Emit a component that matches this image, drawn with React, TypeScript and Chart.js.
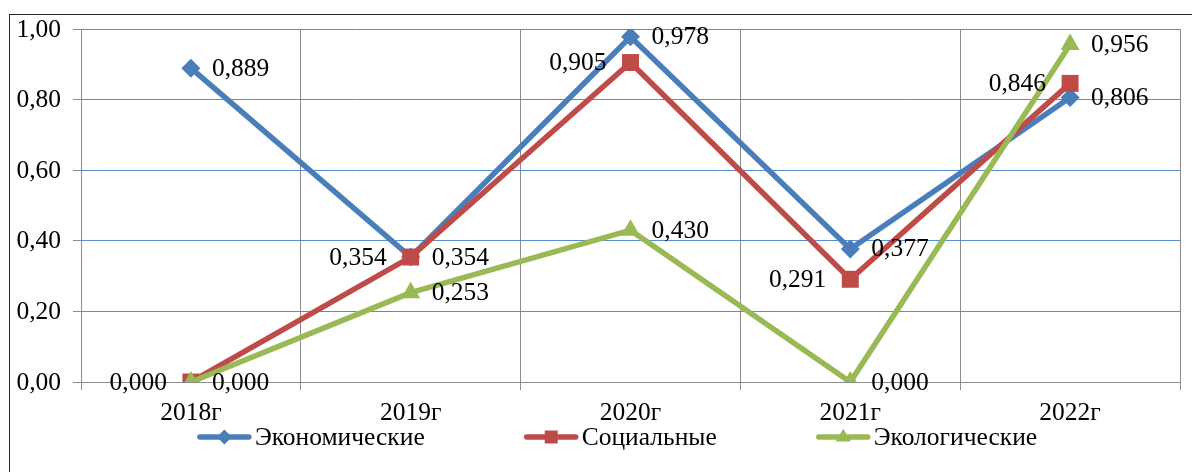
import React, { useEffect, useRef } from 'react';
import { Chart, registerables } from 'chart.js';

Chart.register(...registerables);

const categories = ['2018г', '2019г', '2020г', '2021г', '2022г'];
const economic = [0.889, 0.354, 0.978, 0.377, 0.806];
const social = [0.0, 0.354, 0.905, 0.291, 0.846];
const ecological = [0.0, 0.253, 0.43, 0.0, 0.956];
const seriesNames = ['Экономические', 'Социальные', 'Экологические'];
const yTickValues = [0, 0.2, 0.4, 0.6, 0.8, 1.0];

const BLUE = '#4A7EBB';
const RED = '#BE4B48';
const GREEN = '#98B954';
const GRID_BLUE = '#5B8BCF';
const GRAY = '#8C8C8C';
const FONT = '25px "Liberation Serif"';
const STRETCH = 1.02;

function drawText(ctx: CanvasRenderingContext2D, text: string, x: number, y: number, align: CanvasTextAlign) {
  ctx.save();
  ctx.translate(x, y);
  ctx.scale(STRETCH, 1);
  ctx.font = FONT;
  ctx.fillStyle = '#000';
  ctx.textAlign = align;
  ctx.textBaseline = 'middle';
  ctx.fillText(text, 0, 0);
  ctx.restore();
}

function drawMarker(ctx: CanvasRenderingContext2D, style: string, x: number, y: number, r: number, color: string) {
  ctx.save();
  ctx.fillStyle = color;
  ctx.beginPath();
  if (style === 'rectRot') {
    ctx.moveTo(x - r, y);
    ctx.lineTo(x, y - r);
    ctx.lineTo(x + r, y);
    ctx.lineTo(x, y + r);
  } else if (style === 'rect') {
    ctx.rect(x - r, y - r, 2 * r, 2 * r);
  } else {
    ctx.moveTo(x, y - r * 1.1);
    ctx.lineTo(x + r, y + r * 0.6);
    ctx.lineTo(x - r, y + r * 0.6);
  }
  ctx.closePath();
  ctx.fill();
  ctx.restore();
}

const fmt3 = (v: number) => v.toFixed(3).replace('.', ',');
const fmt2 = (v: number) => v.toFixed(2).replace('.', ',');

const textPlugin = {
  id: 'textPlugin',
  afterDatasetsDraw(chart: any) {
    const ctx: CanvasRenderingContext2D = chart.ctx;
    const area = chart.chartArea;
    const xs = chart.scales.x;
    const ys = chart.scales.y;

    yTickValues.forEach((v) => {
      drawText(ctx, fmt2(v), area.left - 20, ys.getPixelForValue(v) + 1, 'right');
    });
    categories.forEach((c, i) => {
      drawText(ctx, c, xs.getPixelForValue(i), area.bottom + 31, 'center');
    });
    chart.data.datasets.forEach((ds: any, di: number) => {
      const meta = chart.getDatasetMeta(di);
      meta.data.forEach((pt: any, i: number) => {
        const v = ds.data[i];
        if (ds.labelSide === 'left') {
          drawText(ctx, fmt3(v), pt.x - 24, pt.y + 1, 'right');
        } else {
          drawText(ctx, fmt3(v), pt.x + 21, pt.y + 1, 'left');
        }
      });
    });

    const lineLen = 53;
    const gapText = 4;
    const gapItem = 100;
    ctx.save();
    ctx.font = FONT;
    const widths = chart.data.datasets.map((ds: any) => lineLen + gapText + ctx.measureText(ds.label).width * STRETCH);
    ctx.restore();
    const total = widths.reduce((a: number, b: number) => a + b, 0) + gapItem * (widths.length - 1);
    let x = (area.left + area.right) / 2 - 13 - total / 2;
    const ly = area.bottom + 55;
    chart.data.datasets.forEach((ds: any, di: number) => {
      ctx.save();
      ctx.strokeStyle = ds.borderColor;
      ctx.lineWidth = 5.5;
      ctx.lineCap = 'round';
      ctx.beginPath();
      ctx.moveTo(x + 2, ly);
      ctx.lineTo(x + lineLen - 2, ly);
      ctx.stroke();
      ctx.restore();
      drawMarker(ctx, ds.pointStyle, x + lineLen / 2, ly, ds.pointStyle === 'rect' ? 6.5 : 7.5, ds.borderColor);
      drawText(ctx, ds.label, x + lineLen + gapText, ly + 1, 'left');
      x += widths[di] + gapItem;
    });
  },
};

export default function App() {
  const canvasRef = useRef<HTMLCanvasElement | null>(null);

  useEffect(() => {
    const canvas = canvasRef.current;
    if (!canvas) return;
    let alive = true;
    const chart = new Chart(canvas, {
      type: 'line',
      data: {
        labels: categories,
        datasets: [
          {
            label: seriesNames[0],
            data: economic,
            borderColor: BLUE,
            backgroundColor: BLUE,
            pointBackgroundColor: BLUE,
            borderWidth: 5.5,
            pointStyle: 'rectRot',
            pointRadius: 9.5,
            pointBorderWidth: 0,
            order: 3,
            labelSide: 'right',
          } as any,
          {
            label: seriesNames[1],
            data: social,
            borderColor: RED,
            backgroundColor: RED,
            pointBackgroundColor: RED,
            borderWidth: 5.5,
            pointStyle: 'rect',
            pointRadius: 12,
            pointBorderWidth: 0,
            order: 2,
            labelSide: 'left',
          } as any,
          {
            label: seriesNames[2],
            data: ecological,
            borderColor: GREEN,
            backgroundColor: GREEN,
            pointBackgroundColor: GREEN,
            borderWidth: 5.5,
            pointStyle: 'triangle',
            pointRadius: 11,
            pointBorderWidth: 0,
            order: 1,
            labelSide: 'right',
          } as any,
        ],
      },
      options: {
        responsive: false,
        animation: false,
        events: [],
        layout: { padding: { left: 0, top: 29, right: 12, bottom: 50 } },
        plugins: {
          legend: { display: false },
          tooltip: { enabled: false },
          title: { display: false },
        },
        elements: { line: { tension: 0 } },
        scales: {
          x: {
            type: 'category',
            offset: true,
            grid: {
              offset: true,
              color: GRAY,
              lineWidth: 1,
              drawTicks: true,
              tickLength: 8,
              tickColor: GRAY,
            },
            border: { display: true, color: GRAY, width: 1 },
            ticks: { display: false },
            afterFit: (s: any) => {
              s.height = 40;
            },
          },
          y: {
            min: 0,
            max: 1,
            ticks: { display: false, stepSize: 0.2 },
            grid: {
              color: (c: any) => (c.tick && c.tick.value === 0 ? GRAY : GRID_BLUE),
              lineWidth: 1,
              drawTicks: true,
              tickLength: 8,
              tickColor: GRAY,
            },
            border: { display: true, color: GRAY, width: 1 },
            afterFit: (s: any) => {
              s.width = 81;
            },
          },
        },
      } as any,
      plugins: [textPlugin],
    });
    if ((document as any).fonts && (document as any).fonts.load) {
      (document as any).fonts.load(FONT, 'Эк0,1').then(() => {
        if (alive) chart.draw();
      });
    }
    return () => {
      alive = false;
      chart.destroy();
    };
  }, []);

  return (
    <div
      style={{
        position: 'fixed',
        left: 0,
        top: 0,
        width: 1192,
        height: 472,
        overflow: 'hidden',
        background: '#fff',
      }}
    >
      <div
        style={{
          position: 'absolute',
          left: 9,
          top: 14,
          width: 1400,
          height: 700,
          borderTop: '1.5px solid #262626',
          borderLeft: '1.5px solid #262626',
        }}
      />
      <canvas
        ref={canvasRef}
        width={1192}
        height={472}
        style={{ position: 'absolute', left: 0, top: 0, width: 1192, height: 472 }}
      />
    </div>
  );
}
